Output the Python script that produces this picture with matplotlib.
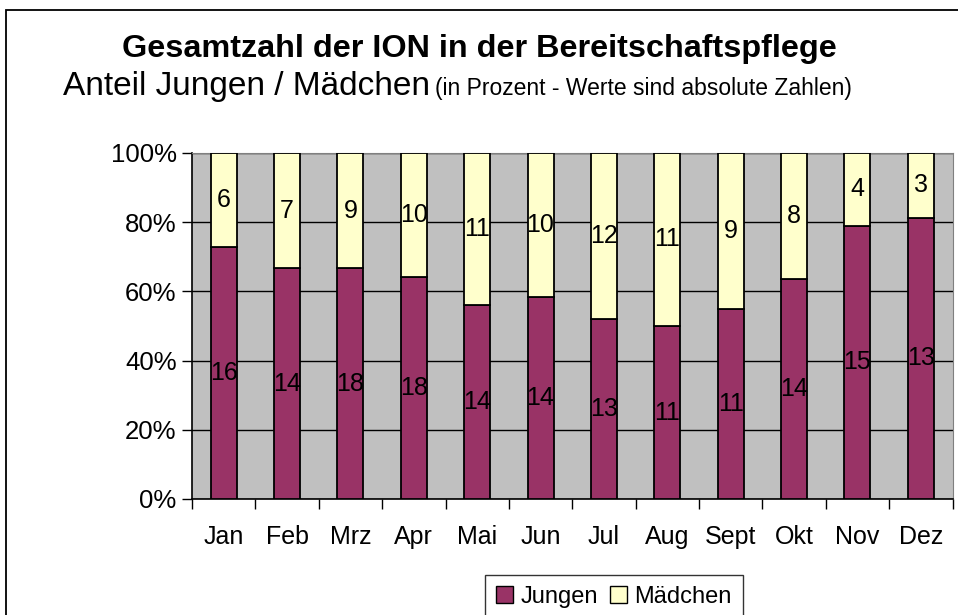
import matplotlib
matplotlib.use("Agg")
import matplotlib.pyplot as plt
from matplotlib.patches import Rectangle, Patch
import numpy as np

plt.rcParams['font.family'] = ['Liberation Sans', 'DejaVu Sans']

months = ["Jan", "Feb", "Mrz", "Apr", "Mai", "Jun", "Jul", "Aug", "Sept", "Okt", "Nov", "Dez"]
jungen = [16, 14, 18, 18, 14, 14, 13, 11, 11, 14, 15, 13]
maedchen = [6, 7, 9, 10, 11, 10, 12, 11, 9, 8, 4, 3]
yticks = [0, 20, 40, 60, 80, 100]
ytick_labels = ["0%", "20%", "40%", "60%", "80%", "100%"]

W, H = 958, 615
fig = plt.figure(figsize=(W / 100, H / 100), dpi=100)
fig.patch.set_facecolor("white")

# outer chart border
fig.patches.append(Rectangle((6 / W, -0.1), 1.2, 1 - 10 / H + 0.1, transform=fig.transFigure,
                             fill=False, edgecolor="black", linewidth=1.3, zorder=0))

left, right, top, bottom = 192, 952.5, 153, 499
ax = fig.add_axes([left / W, 1 - bottom / H, (right - left) / W, (bottom - top) / H])
ax.set_facecolor("#C0C0C0")

j = np.array(jungen, dtype=float)
m = np.array(maedchen, dtype=float)
tot = j + m
jp = j / tot * 100
mp = m / tot * 100
x = np.arange(len(months))
bw = 0.41

ax.bar(x, jp, width=bw, color="#993366", edgecolor="black", linewidth=1.3, zorder=3)
ax.bar(x, mp, bottom=jp, width=bw, color="#FFFFCC", edgecolor="black", linewidth=1.3, zorder=3)

for i in range(len(months)):
    ax.text(x[i], jp[i] / 2, str(jungen[i]), ha="center", va="center", fontsize=18, zorder=4)
    ax.text(x[i], jp[i] + mp[i] / 2, str(maedchen[i]), ha="center", va="center", fontsize=18, zorder=4)

ax.set_xlim(-0.5, len(months) - 0.5)
ax.set_ylim(0, 100)
ax.set_yticks(yticks)
ax.set_yticklabels(ytick_labels, fontsize=18.5)
ax.yaxis.grid(True, color="black", linewidth=1.0, zorder=1)
ax.set_axisbelow(True)

ax.set_xticks(x)
ax.set_xticklabels(months, fontsize=18)
ax.set_xticks(np.arange(-0.5, len(months), 1), minor=True)
ax.tick_params(axis="x", which="major", length=0, pad=19)
ax.tick_params(axis="x", which="minor", length=7, width=1, color="black", direction="out")
ax.tick_params(axis="y", which="major", length=7, width=1, direction="out", pad=4)

for s in ["top", "right"]:
    ax.spines[s].set_color("#808080")
    ax.spines[s].set_linewidth(0.8)
ax.spines["left"].set_color("black")
ax.spines["bottom"].set_color("black")
ax.spines["left"].set_linewidth(1.2)
ax.spines["bottom"].set_linewidth(1.2)

# titles
fig.text(479 / W, 1 - 57 / H, "Gesamtzahl der ION in der Bereitschaftspflege",
         ha="center", va="baseline", fontsize=23.3, fontweight="bold")
fig.canvas.draw()
r = fig.canvas.get_renderer()
sub_a = "Anteil Jungen / Mädchen"
sub_b = "(in Prozent - Werte sind absolute Zahlen)"
t1 = fig.text(0, 1 - 95 / H, sub_a, ha="left", va="baseline", fontsize=24)
t2 = fig.text(0, 1 - 95 / H, sub_b, ha="left", va="baseline", fontsize=16.5)
w1 = t1.get_window_extent(r).width
w2 = t2.get_window_extent(r).width
gap = 5
total = w1 + gap + w2
x0 = 457 - total / 2
t1.set_x(x0 / W)
t2.set_x((x0 + w1 + gap) / W)

handles = [Patch(facecolor="#993366", edgecolor="black", label="Jungen"),
           Patch(facecolor="#FFFFCC", edgecolor="black", label="Mädchen")]
leg = fig.legend(handles=handles, loc="upper left", bbox_to_anchor=(485 / W, 1 - 575 / H),
                 ncol=2, frameon=True, fontsize=17, fancybox=False, borderaxespad=0,
                 handlelength=0.75, handleheight=0.75, handletextpad=0.3, columnspacing=0.5,
                 borderpad=0.45)
leg.get_frame().set_edgecolor("black")
leg.get_frame().set_linewidth(1.0)

fig.savefig("out.png", dpi=100)
